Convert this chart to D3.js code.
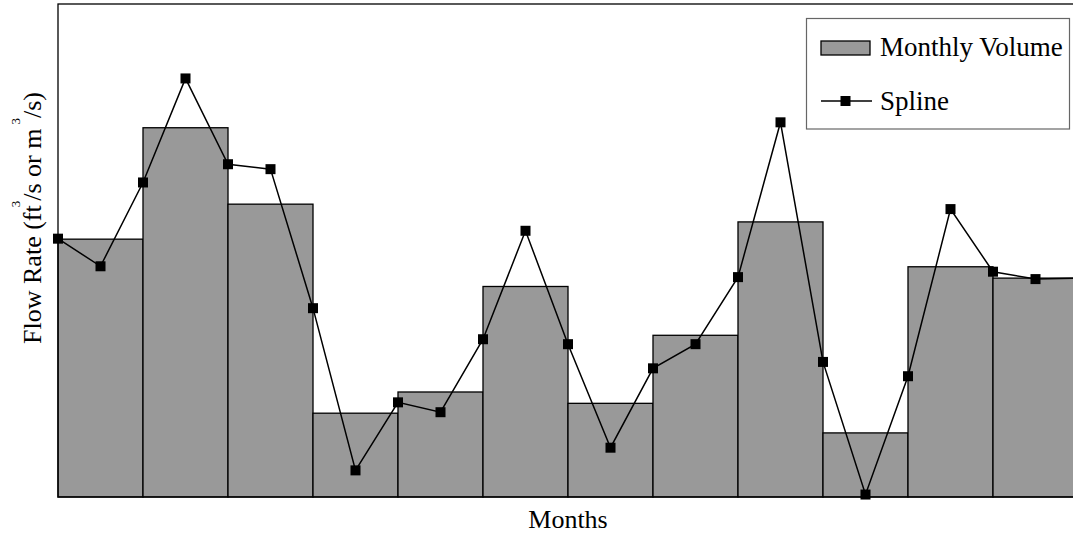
<!DOCTYPE html>
<html lang="en">
<head>
<meta charset="utf-8">
<title>Monthly Volume and Spline</title>
<script src="https://cdn.jsdelivr.net/npm/d3@7/dist/d3.min.js"></script>
<style>
  html, body { margin: 0; padding: 0; background: #fff; overflow: hidden; }
  svg { display: block; }
  text { font-family: "Liberation Serif", "Times New Roman", serif; fill: #000; }
</style>
</head>
<body>
<script type="text/javascript">

var width = 1073;
var height = 533;

// data
var months = ["Jan", "Feb", "Mar", "Apr", "May", "Jun", "Jul", "Aug", "Sep", "Oct", "Nov", "Dec"];
var monthlyVolume = [52.3, 74.9, 59.4, 17.0, 21.3, 42.7, 19.0, 32.8, 55.8, 13.0, 46.7, 44.4];
var splineT = [0, 0.5, 1, 1.5, 2, 2.5, 3, 3.5, 4, 4.5, 5, 5.5, 6, 6.5, 7, 7.5, 8, 8.5, 9, 9.5, 10, 10.5, 11, 11.5, 12];
var splineV = [52.4, 46.8, 63.8, 84.9, 67.5, 66.5, 38.3, 5.4, 19.2, 17.2, 32.0, 54.0, 31.0,
               10.0, 26.1, 31.0, 44.6, 76.0, 27.4, 0.5, 24.5, 58.4, 45.7, 44.2, 44.4];
var legendLabels = ["Monthly Volume", "Spline"];

var svg = d3.select("body").append("svg")
            .attr("width", width)
            .attr("height", height);

var x = d3.scaleLinear().domain([0, 12]).range([58, 1078]);
var y = d3.scaleLinear().domain([0, 100]).range([497, 4]);

// bars
svg.selectAll("rect.bar")
    .data(monthlyVolume)
    .enter()
    .append("rect")
    .attr("class", "bar")
    .attr("x", (d, i) => x(i))
    .attr("y", (d) => y(d))
    .attr("width", (d, i) => x(i + 1) - x(i))
    .attr("height", (d) => y(0) - y(d))
    .attr("fill", "#999999")
    .attr("stroke", "#000")
    .attr("stroke-width", 1.3);

// frame
svg.append("rect")
    .attr("x", x(0))
    .attr("y", y(100))
    .attr("width", x(12) - x(0))
    .attr("height", y(0) - y(100))
    .attr("fill", "none")
    .attr("stroke", "#000")
    .attr("stroke-width", 1.3);

// spline
var pts = splineT.map((t, i) => [t, splineV[i]]);
var line = d3.line().x((d) => x(d[0])).y((d) => y(d[1]));

svg.append("path")
    .datum(pts)
    .attr("d", line)
    .attr("fill", "none")
    .attr("stroke", "#000")
    .attr("stroke-width", 1.5);

svg.selectAll("rect.pt")
    .data(pts)
    .enter()
    .append("rect")
    .attr("class", "pt")
    .attr("x", (d) => x(d[0]) - 5)
    .attr("y", (d) => y(d[1]) - 5)
    .attr("width", 10)
    .attr("height", 10)
    .attr("fill", "#000");

// axis titles
svg.append("text")
    .attr("x", x(6))
    .attr("y", 528)
    .attr("text-anchor", "middle")
    .style("font-size", "26px")
    .text("Months");

var yl = svg.append("text")
    .attr("transform", "translate(41,218) rotate(-90)")
    .attr("text-anchor", "middle")
    .style("font-size", "26px");
yl.append("tspan").text("Flow Rate (ft");
yl.append("tspan").attr("dx", -2).attr("dy", -21).style("font-size", "13px").text("3");
yl.append("tspan").attr("dy", 21).text("/s or m");
yl.append("tspan").attr("dx", 4).attr("dy", -21).style("font-size", "13px").text("3");
yl.append("tspan").attr("dy", 21).text("/s)");

// legend
var lg = svg.append("g");
lg.append("rect")
    .attr("x", 806.5).attr("y", 18.5)
    .attr("width", 263).attr("height", 110.5)
    .attr("fill", "#fff")
    .attr("stroke", "#666")
    .attr("stroke-width", 1.2);
lg.append("rect")
    .attr("x", 821).attr("y", 41)
    .attr("width", 49).attr("height", 14)
    .attr("fill", "#999999")
    .attr("stroke", "#000")
    .attr("stroke-width", 1.3);
lg.append("line")
    .attr("x1", 821).attr("x2", 872)
    .attr("y1", 101).attr("y2", 101)
    .attr("stroke", "#000")
    .attr("stroke-width", 1.5);
lg.append("rect")
    .attr("x", 840.5).attr("y", 96)
    .attr("width", 10).attr("height", 10)
    .attr("fill", "#000");
lg.selectAll("text")
    .data(legendLabels)
    .enter()
    .append("text")
    .attr("x", 880)
    .attr("y", (d, i) => 56 + i * 54)
    .style("font-size", "27px")
    .text((d) => d);

</script>
</body>
</html>
